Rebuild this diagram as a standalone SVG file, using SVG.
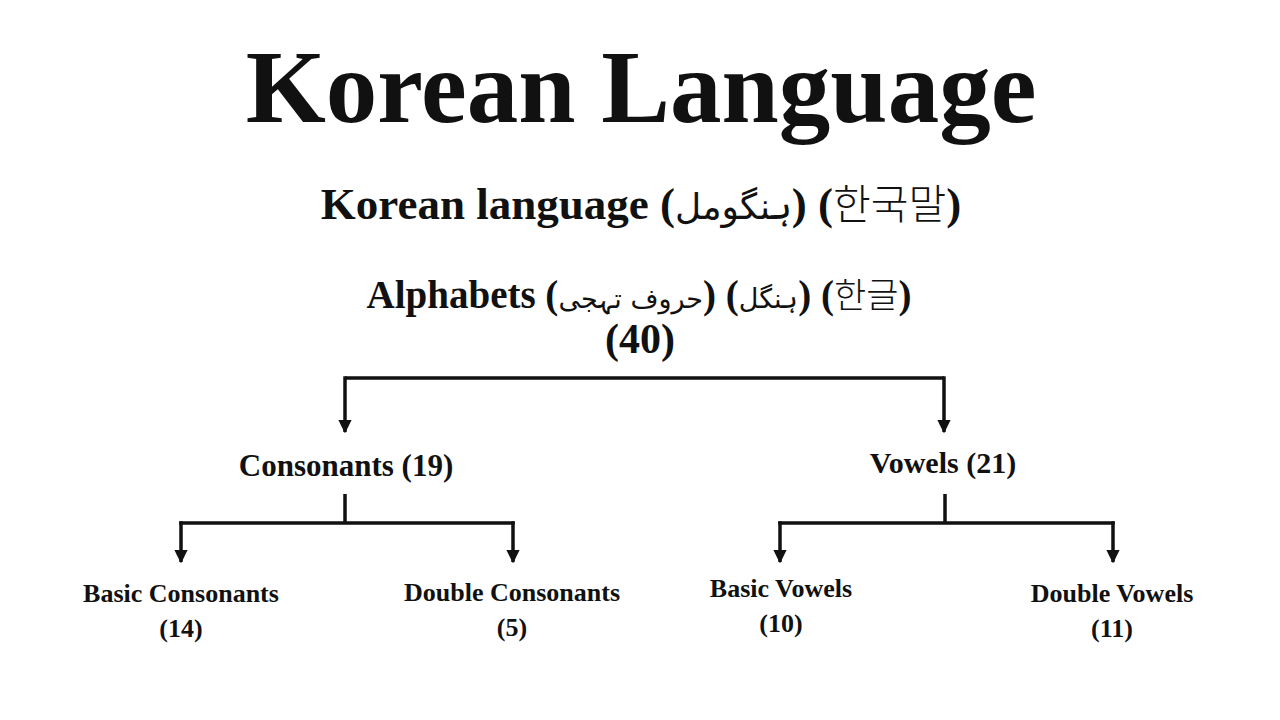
<svg xmlns="http://www.w3.org/2000/svg" width="1280" height="720" viewBox="0 0 1280 720">
<defs>
<style>
.t{font-family:"Liberation Serif","Noto Sans CJK KR","DejaVu Sans",serif;font-weight:bold;fill:#111;text-anchor:middle}
.ko{font-family:"Noto Sans CJK KR","Noto Sans",sans-serif;font-weight:300}
.ur{font-family:"DejaVu Sans","Noto Sans",sans-serif;font-weight:normal}
.ln{stroke:#111;stroke-width:3.5;fill:none}
</style>
<marker id="ah" viewBox="0 0 10 10" refX="9" refY="5" markerWidth="3.8" markerHeight="3.8" orient="auto" markerUnits="strokeWidth">
<path d="M0,0 L10,5 L0,10 Z" fill="#111"/>
</marker>
</defs>
<rect width="1280" height="720" fill="#fff"/>
<g id="title"><text class="t" x="641" y="122" font-size="103">Korean Language</text></g>
<g id="korean-language"><text class="t" x="641" y="219" font-size="45">Korean language (<tspan class="ur" font-size="36">ہنگومل</tspan>) (<tspan class="ko" font-size="41">한국말</tspan>)</text></g>
<g id="alphabets"><text class="t" x="639" y="308" font-size="39">Alphabets (<tspan class="ur" font-size="27">حروف تہجی</tspan>) (<tspan class="ur" font-size="27">ہنگل</tspan>) (<tspan class="ko" font-size="35">한글</tspan>)</text>
<text class="t" x="640" y="353" font-size="42">(40)</text></g>
<g id="consonants"><text class="t" x="346" y="476" font-size="31">Consonants (19)</text></g>
<g id="vowels"><text class="t" x="943" y="473" font-size="30">Vowels (21)</text></g>
<g id="basic-consonants"><text class="t" x="181" y="602" font-size="26">Basic Consonants</text><text class="t" x="181" y="637" font-size="26">(14)</text></g>
<g id="double-consonants"><text class="t" x="512" y="601" font-size="26">Double Consonants</text><text class="t" x="512" y="636" font-size="26">(5)</text></g>
<g id="basic-vowels"><text class="t" x="781" y="597" font-size="26">Basic Vowels</text><text class="t" x="781" y="632" font-size="26">(10)</text></g>
<g id="double-vowels"><text class="t" x="1112" y="602" font-size="26">Double Vowels</text><text class="t" x="1112" y="637" font-size="26">(11)</text></g>
<g id="connectors">
<path class="ln" d="M345,378 H944"/>
<path class="ln" d="M345,376.3 V432" marker-end="url(#ah)"/>
<path class="ln" d="M944,376.3 V432" marker-end="url(#ah)"/>
<path class="ln" d="M345,494 V523 M179.3,523 H514.7"/>
<path class="ln" d="M181,521.3 V562" marker-end="url(#ah)"/>
<path class="ln" d="M513,521.3 V562" marker-end="url(#ah)"/>
<path class="ln" d="M945,494 V523 M778.3,523 H1114.7"/>
<path class="ln" d="M780,521.3 V562" marker-end="url(#ah)"/>
<path class="ln" d="M1113,521.3 V562" marker-end="url(#ah)"/>
</g>
</svg>
